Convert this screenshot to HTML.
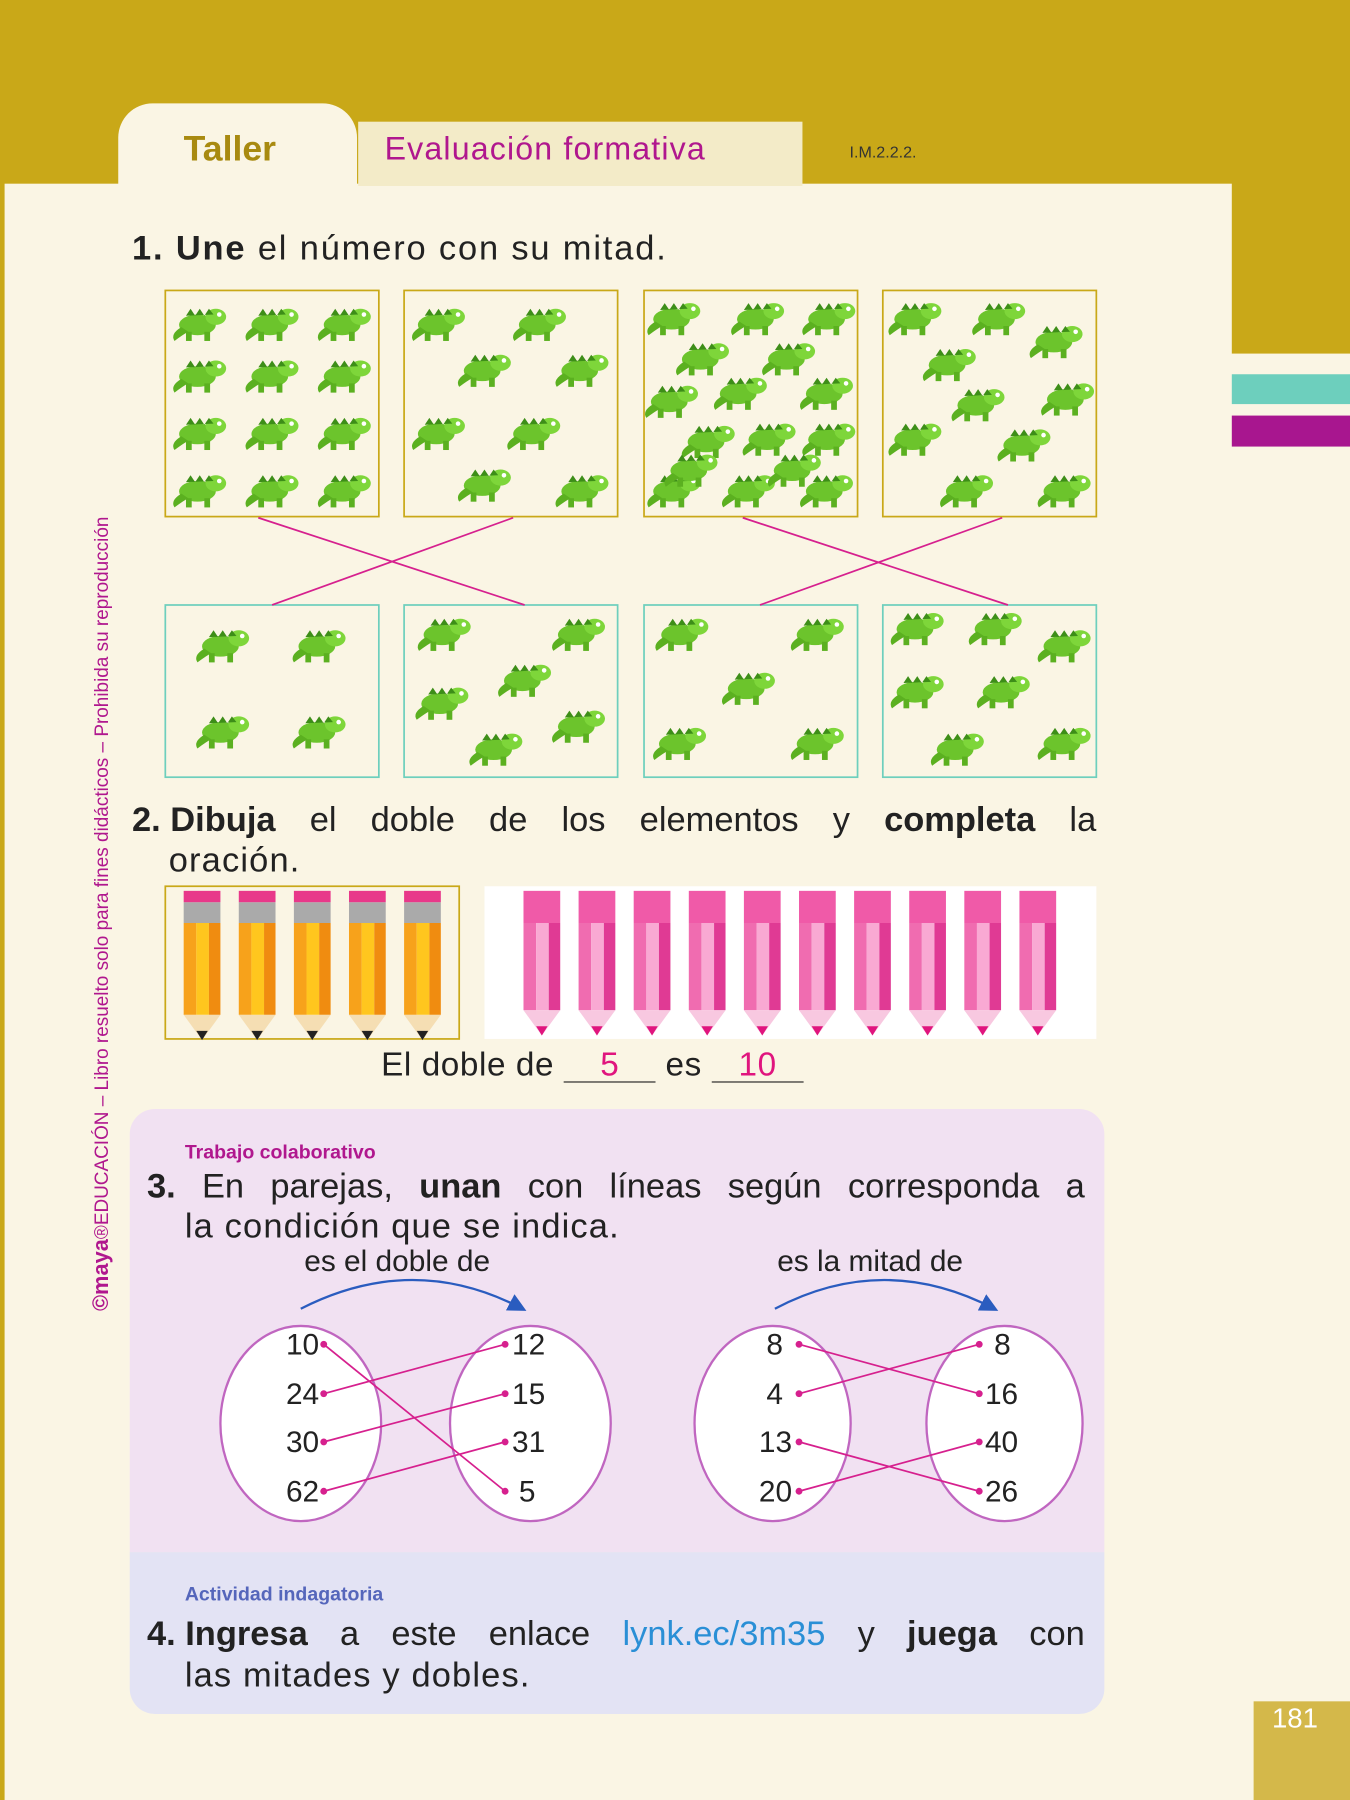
<!DOCTYPE html>
<html><head><meta charset="utf-8"><style>
html,body{margin:0;padding:0;}
body{width:1350px;height:1800px;overflow:hidden;background:#faf5e4;font-family:"Liberation Sans","DejaVu Sans",sans-serif;}
#w{position:absolute;left:0;top:0;width:1176px;height:1568px;transform:scale(1.148);transform-origin:0 0;}
.a{position:absolute;white-space:nowrap;}
.box{position:absolute;box-sizing:border-box;}
</style></head><body><div id="w">
<div class="box" style="left:0;top:0;width:1176px;height:160px;background:#c9a818"></div>
<div class="box" style="left:1073px;top:150px;width:103px;height:158px;background:#c9a818"></div>
<div class="box" style="left:0;top:0;width:4px;height:1568px;background:#c9a818"></div>
<div class="box" style="left:103px;top:90px;width:208px;height:72px;background:#faf5e4;border-radius:30px 30px 0 0"></div>
<div class="a" style="left:160px;top:112px;font-size:31px;color:#a88a10;font-weight:bold">Taller</div>
<div class="box" style="left:312px;top:106px;width:387px;height:56px;background:#f3ebc8"></div>
<div class="a" style="left:335px;top:114px;font-size:28px;color:#b0178e;letter-spacing:1px">Evaluación formativa</div>
<div class="a" style="left:740px;top:124px;font-size:14px;color:#333">I.M.2.2.2.</div>
<div class="box" style="left:1073px;top:326px;width:103px;height:26px;background:#6dcfbd"></div>
<div class="box" style="left:1073px;top:362px;width:103px;height:27px;background:#a8168f"></div>
<div class="box" style="left:1092px;top:1482px;width:84px;height:86px;background:#d4b84a"></div>
<div class="a" style="left:1108px;top:1484px;font-size:24px;color:#fff">181</div>
<div class="a" style="left:78px;top:1142px;font-size:16.5px;color:#b0178e;transform:rotate(-90deg);transform-origin:0 0;"><b style="font-size:19px">©maya</b>®EDUCACIÓN – Libro resuelto solo para fines didácticos – Prohibida su reproducción</div>
<div class="a" style="left:115px;top:200px;font-size:30px;color:#222;letter-spacing:1.6px"><b>1. Une</b> el número con su mitad.</div>

<svg class="a" style="left:0;top:0" width="1176" height="700">
<defs>
<g id="ig">
<ellipse cx="0" cy="0" rx="16" ry="9" fill="#6cc42c"/>
<ellipse cx="16" cy="-7" rx="9" ry="7" fill="#7ed63a"/>
<path d="M-14 2 Q-24 8 -20 14 Q-12 8 -8 6Z" fill="#5bb020"/>
<rect x="-10" y="6" width="5" height="8" fill="#5bb020"/><rect x="6" y="6" width="5" height="8" fill="#5bb020"/>
<path d="M-10 -8 L-6 -14 L-2 -8 L2 -14 L6 -8 L10 -14 L14 -9Z" fill="#3d8e18"/>
<circle cx="19" cy="-9" r="2" fill="#fff"/>
</g>
</defs>
<g fill="none" stroke="#c9a818" stroke-width="1.5">
<rect x="144" y="253" width="186" height="197"/><rect x="352" y="253" width="186" height="197"/>
<rect x="561" y="253" width="186" height="197"/><rect x="769" y="253" width="186" height="197"/>
</g>
<g fill="none" stroke="#6dcfbd" stroke-width="1.5">
<rect x="144" y="527" width="186" height="150"/><rect x="352" y="527" width="186" height="150"/>
<rect x="561" y="527" width="186" height="150"/><rect x="769" y="527" width="186" height="150"/>
</g>
<g stroke="#d6208e" stroke-width="1.5">
<line x1="225" y1="451" x2="457" y2="527"/><line x1="447" y1="451" x2="237" y2="527"/>
<line x1="647" y1="451" x2="878" y2="527"/><line x1="873" y1="451" x2="662" y2="527"/>
</g>
<g>
<use href="#ig" x="172" y="283"/><use href="#ig" x="235" y="283"/><use href="#ig" x="298" y="283"/>
<use href="#ig" x="172" y="328"/><use href="#ig" x="235" y="328"/><use href="#ig" x="298" y="328"/>
<use href="#ig" x="172" y="378"/><use href="#ig" x="235" y="378"/><use href="#ig" x="298" y="378"/>
<use href="#ig" x="172" y="428"/><use href="#ig" x="235" y="428"/><use href="#ig" x="298" y="428"/>
<use href="#ig" x="380" y="283"/><use href="#ig" x="468" y="283"/><use href="#ig" x="420" y="323"/><use href="#ig" x="505" y="323"/>
<use href="#ig" x="380" y="378"/><use href="#ig" x="463" y="378"/><use href="#ig" x="420" y="423"/><use href="#ig" x="505" y="428"/>
<use href="#ig" x="585" y="278"/><use href="#ig" x="658" y="278"/><use href="#ig" x="720" y="278"/>
<use href="#ig" x="610" y="313"/><use href="#ig" x="685" y="313"/>
<use href="#ig" x="583" y="350"/><use href="#ig" x="643" y="343"/><use href="#ig" x="718" y="343"/>
<use href="#ig" x="615" y="385"/><use href="#ig" x="668" y="383"/><use href="#ig" x="720" y="383"/>
<use href="#ig" x="585" y="428"/><use href="#ig" x="650" y="428"/><use href="#ig" x="718" y="428"/><use href="#ig" x="690" y="410"/><use href="#ig" x="600" y="410"/>
<use href="#ig" x="795" y="278"/><use href="#ig" x="868" y="278"/><use href="#ig" x="918" y="298"/>
<use href="#ig" x="825" y="318"/><use href="#ig" x="850" y="353"/><use href="#ig" x="928" y="348"/>
<use href="#ig" x="795" y="383"/><use href="#ig" x="890" y="388"/><use href="#ig" x="840" y="428"/><use href="#ig" x="925" y="428"/>
<use href="#ig" x="192" y="563"/><use href="#ig" x="276" y="563"/><use href="#ig" x="192" y="638"/><use href="#ig" x="276" y="638"/>
<use href="#ig" x="385" y="553"/><use href="#ig" x="502" y="553"/><use href="#ig" x="455" y="593"/>
<use href="#ig" x="383" y="613"/><use href="#ig" x="430" y="653"/><use href="#ig" x="502" y="633"/>
<use href="#ig" x="592" y="553"/><use href="#ig" x="710" y="553"/><use href="#ig" x="650" y="600"/>
<use href="#ig" x="590" y="648"/><use href="#ig" x="710" y="648"/>
<use href="#ig" x="797" y="548"/><use href="#ig" x="865" y="548"/><use href="#ig" x="925" y="563"/>
<use href="#ig" x="797" y="603"/><use href="#ig" x="872" y="603"/><use href="#ig" x="832" y="653"/><use href="#ig" x="925" y="648"/>
</g>
</svg>

<div class="a" style="left:115px;top:698px;font-size:30px;color:#222;width:840px;display:flex;justify-content:space-between"><span><b>2. Dibuja</b></span><span>el</span><span>doble</span><span>de</span><span>los</span><span>elementos</span><span>y</span><b>completa</b><span>la</span></div>
<div class="a" style="left:147px;top:733px;font-size:30px;color:#222;letter-spacing:1px">oración.</div>

<svg class="a" style="left:0;top:760px" width="1176" height="160">
<defs>
<g id="yp"><rect x="0" y="12" width="32" height="10" fill="#e8388a"/><rect x="0" y="22" width="32" height="18" fill="#aaa"/>
<rect x="0" y="40" width="11" height="80" fill="#f7a21b"/><rect x="11" y="40" width="11" height="80" fill="#ffc61e"/><rect x="22" y="40" width="10" height="80" fill="#f08c10"/>
<path d="M0 120 L32 120 L16 142Z" fill="#f5deb3"/><path d="M11 134 L21 134 L16 142Z" fill="#222"/></g>
<g id="pp"><rect x="0" y="16" width="32" height="28" fill="#f05aa8"/><rect x="0" y="44" width="11" height="76" fill="#f06cb0"/><rect x="11" y="44" width="11" height="76" fill="#f9a9d3"/><rect x="22" y="44" width="10" height="76" fill="#e03a94"/>
<path d="M0 120 L32 120 L16 142Z" fill="#f8c8e0"/><path d="M11 134 L21 134 L16 142Z" fill="#e0157e"/></g>
</defs>
<rect x="144" y="12" width="256" height="133" fill="none" stroke="#c9a818" stroke-width="1.5"/>
<rect x="422" y="12" width="533" height="133" fill="#fff"/>
<use href="#yp" x="160" y="4"/><use href="#yp" x="208" y="4"/><use href="#yp" x="256" y="4"/><use href="#yp" x="304" y="4"/><use href="#yp" x="352" y="4"/>
<use href="#pp" x="456" y="0"/><use href="#pp" x="504" y="0"/><use href="#pp" x="552" y="0"/><use href="#pp" x="600" y="0"/><use href="#pp" x="648" y="0"/>
<use href="#pp" x="696" y="0"/><use href="#pp" x="744" y="0"/><use href="#pp" x="792" y="0"/><use href="#pp" x="840" y="0"/><use href="#pp" x="888" y="0"/>
</svg>
<div class="a" style="left:332px;top:912px;font-size:29px;color:#222;letter-spacing:0.5px">El doble de <span style="display:inline-block;width:80px;border-bottom:1.5px solid #222;text-align:center;color:#e0157e;line-height:28px">5</span> es <span style="display:inline-block;width:80px;border-bottom:1.5px solid #222;text-align:center;color:#e0157e;line-height:28px">10</span></div>

<div class="box" style="left:113px;top:966px;width:849px;height:386px;background:#f1e1f2;border-radius:22px 22px 0 0"></div>
<div class="box" style="left:113px;top:1352px;width:849px;height:141px;background:#e3e3f4;border-radius:0 0 22px 22px"></div>
<div class="a" style="left:161px;top:994px;font-size:17px;color:#b0178e;font-weight:bold">Trabajo colaborativo</div>
<div class="a" style="left:128px;top:1017px;font-size:30px;color:#222;width:817px;display:flex;justify-content:space-between"><b>3.</b><span>En</span><span>parejas,</span><b>unan</b><span>con</span><span>líneas</span><span>según</span><span>corresponda</span><span>a</span></div>
<div class="a" style="left:161px;top:1052px;font-size:30px;color:#222;letter-spacing:1px">la condición que se indica.</div>
<div class="a" style="left:265px;top:1083px;font-size:26px;color:#222">es el doble de</div>
<div class="a" style="left:677px;top:1083px;font-size:26px;color:#222">es la mitad de</div>
<svg class="a" style="left:0;top:1110px" width="1176" height="230" font-family="Liberation Sans" font-size="26" fill="#222">
<defs><marker id="ar" markerWidth="8" markerHeight="8" refX="6" refY="4" orient="auto"><path d="M0 0 L8 4 L0 8Z" fill="#2a5cbf"/></marker></defs>
<g fill="#fff" stroke="#c066c0" stroke-width="2">
<ellipse cx="262" cy="130" rx="70" ry="85"/><ellipse cx="462" cy="130" rx="70" ry="85"/>
<ellipse cx="673" cy="130" rx="68" ry="85"/><ellipse cx="875" cy="130" rx="68" ry="85"/></g>
<g fill="none" stroke="#2a5cbf" stroke-width="2" marker-end="url(#ar)">
<path d="M262 30 Q360 -20 455 30"/><path d="M675 30 Q770 -20 866 30"/></g>
<g stroke="#d6208e" stroke-width="1.5">
<line x1="282" y1="61" x2="440" y2="189"/><line x1="282" y1="104" x2="440" y2="61"/><line x1="282" y1="146" x2="440" y2="104"/><line x1="282" y1="189" x2="440" y2="146"/>
<line x1="696" y1="61" x2="853" y2="104"/><line x1="696" y1="104" x2="853" y2="61"/><line x1="696" y1="146" x2="853" y2="189"/><line x1="696" y1="189" x2="853" y2="146"/></g>
<g fill="#d6208e"><circle cx="282" cy="61" r="3"/><circle cx="282" cy="104" r="3"/><circle cx="282" cy="146" r="3"/><circle cx="282" cy="189" r="3"/>
<circle cx="440" cy="61" r="3"/><circle cx="440" cy="104" r="3"/><circle cx="440" cy="146" r="3"/><circle cx="440" cy="189" r="3"/>
<circle cx="696" cy="61" r="3"/><circle cx="696" cy="104" r="3"/><circle cx="696" cy="146" r="3"/><circle cx="696" cy="189" r="3"/>
<circle cx="853" cy="61" r="3"/><circle cx="853" cy="104" r="3"/><circle cx="853" cy="146" r="3"/><circle cx="853" cy="189" r="3"/></g>
<g text-anchor="end"><text x="278" y="70">10</text><text x="278" y="113">24</text><text x="278" y="155">30</text><text x="278" y="198">62</text>
<text x="682" y="70">8</text><text x="682" y="113">4</text><text x="690" y="155">13</text><text x="690" y="198">20</text></g>
<g><text x="446" y="70">12</text><text x="446" y="113">15</text><text x="446" y="155">31</text><text x="452" y="198">5</text>
<text x="866" y="70">8</text><text x="858" y="113">16</text><text x="858" y="155">40</text><text x="858" y="198">26</text></g>
</svg>
<div class="a" style="left:161px;top:1379px;font-size:17px;color:#5566bb;font-weight:bold">Actividad indagatoria</div>
<div class="a" style="left:128px;top:1407px;font-size:30px;color:#222;width:817px;display:flex;justify-content:space-between"><b>4. Ingresa</b><span>a</span><span>este</span><span>enlace</span><span style="color:#2a8fd6">lynk.ec/3m35</span><span>y</span><b>juega</b><span>con</span></div>
<div class="a" style="left:161px;top:1443px;font-size:30px;color:#222;letter-spacing:1px">las mitades y dobles.</div>
</div></body></html>
